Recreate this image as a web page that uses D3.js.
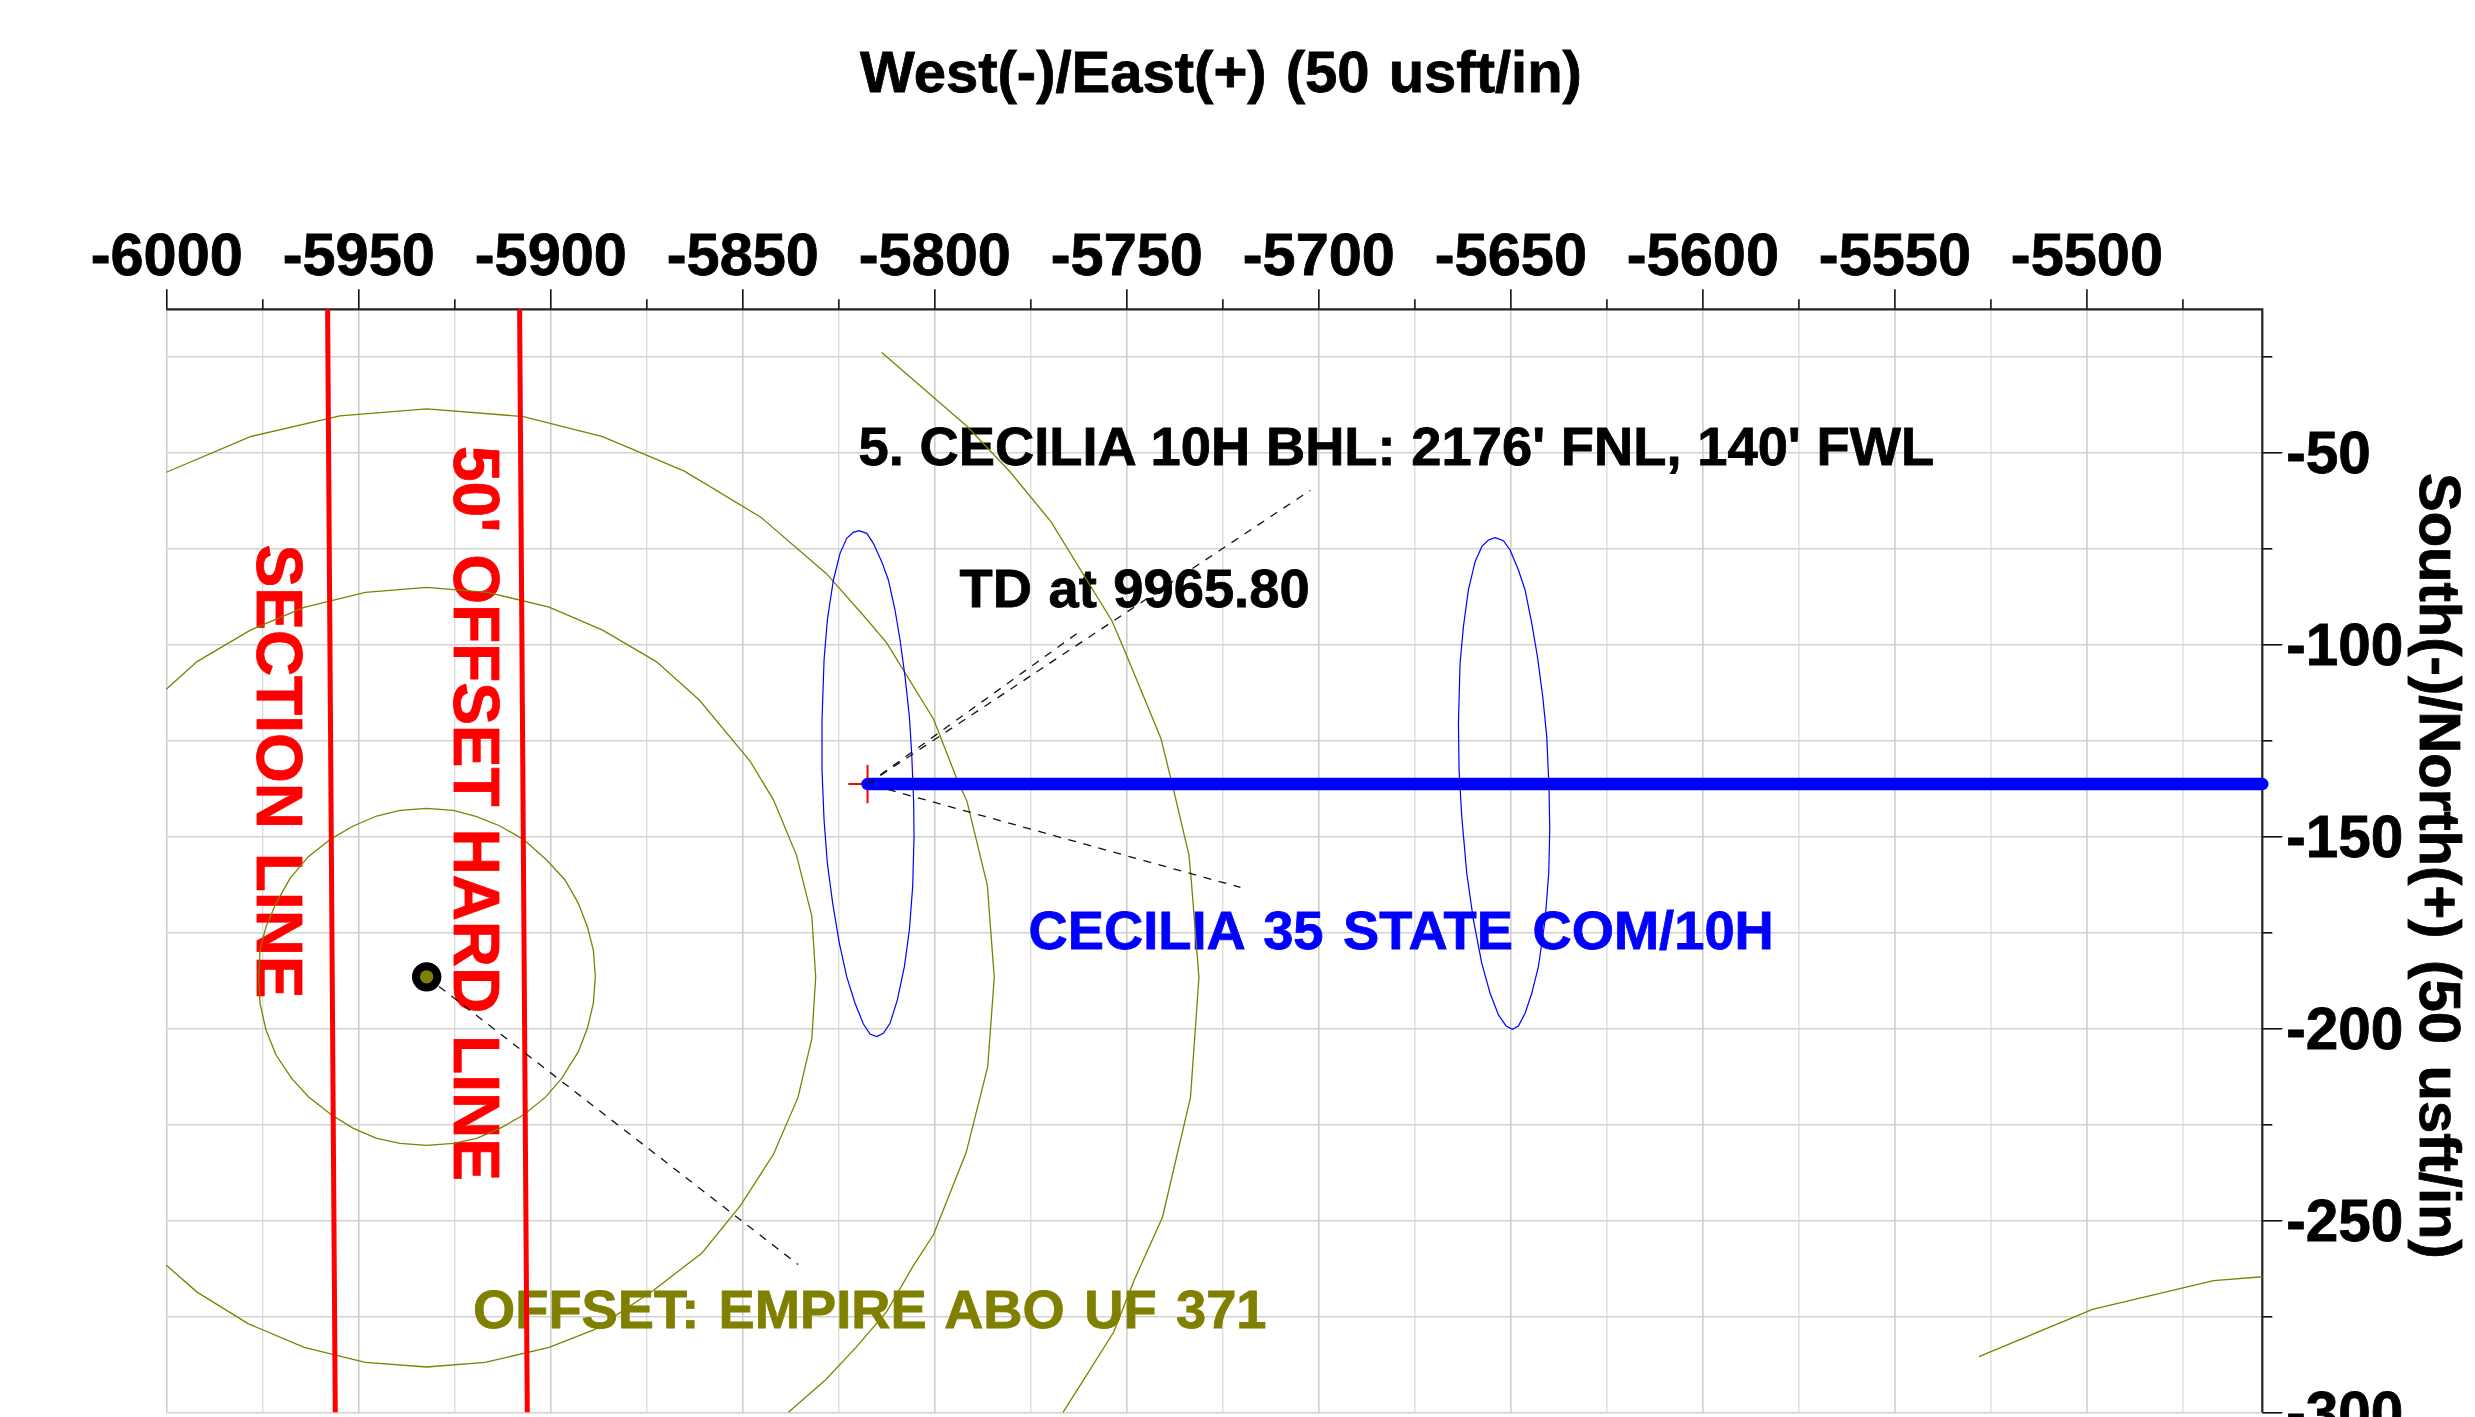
<!DOCTYPE html>
<html>
<head>
<meta charset="utf-8">
<script src="https://cdn.jsdelivr.net/npm/d3@7"></script>
<style>
    body { margin: 0; background: #fff; }
    svg { display: block; }
    text { font-family: "Liberation Sans", Arial, sans-serif; font-weight: bold; }
</style>
</head>
<body>
<script>
// tick values
var xMajor = [-6000, -5950, -5900, -5850, -5800, -5750, -5700, -5650, -5600, -5550, -5500];
var xMinor = [-5975, -5925, -5875, -5825, -5775, -5725, -5675, -5625, -5575, -5525, -5475];
var yMajor = [-50, -100, -150, -200, -250, -300];
var yMinor = [-25, -75, -125, -175, -225, -275];

// hard lines [west/east, south/north]
var sectionLine = [[-5958, -12.76], [-5956, -300]];
var hardLine = [[-5908, -12.76], [-5906, -300]];

// offset well and its separation rings
var offsetWell = [[-5932.2, -186.6]];
var ringA = [[-5932.2, -142.72], [-5925.25, -143.24], [-5919.18, -144.89], [-5913.1, -147.32], [-5907.02, -150.79],
    [-5900.95, -156.17], [-5896.17, -161.38], [-5892.7, -167.46], [-5890.36, -173.53], [-5888.8, -179.61],
    [-5888.28, -186.55], [-5888.8, -193.5], [-5890.36, -200], [-5892.7, -206.08], [-5897.04, -213.03],
    [-5901.38, -218.06], [-5907.02, -222.58], [-5913.1, -226.05], [-5919.18, -228.65], [-5925.25, -229.95],
    [-5932.2, -230.47], [-5939.14, -229.95], [-5945.22, -228.65], [-5951.29, -226.05], [-5956.93, -222.58],
    [-5963.01, -217.8], [-5967.35, -213.03], [-5971.43, -206.95], [-5974.03, -200.44], [-5975.6, -193.5],
    [-5975.94, -186.55], [-5975.6, -179.61], [-5974.03, -173.53], [-5971.43, -167.46], [-5967.78, -160.95],
    [-5963.01, -155.31], [-5956.93, -150.53], [-5951.29, -147.32], [-5945.22, -144.72], [-5939.14, -143.24],
    [-5932.2, -142.72]];
var ringB = [[-6000, -111.7], [-5992, -104.5], [-5978.1, -96.3], [-5964.1, -90.4], [-5948.2, -86.5], [-5932.2, -85.2],
    [-5916.3, -86.5], [-5900.3, -90.3], [-5886.4, -96.3], [-5872.4, -104.5], [-5861.2, -114.5], [-5848, -130.4],
    [-5841.9, -140.5], [-5835.9, -154.9], [-5831.9, -170.8], [-5830.9, -186.7], [-5831.9, -202.6], [-5835.5, -218],
    [-5841.9, -232.8], [-5850.5, -246.2], [-5860.5, -258.5], [-5873.1, -268.2], [-5888.4, -278.4], [-5900.3, -283.1],
    [-5917, -287], [-5932.2, -288.2], [-5948.2, -287], [-5964.1, -283.1], [-5978.7, -276.9], [-5992, -268.7], [-6000, -261.7]];
var ringC = [[-6000, -55.2], [-5978.1, -45.9], [-5954.8, -40.5], [-5932.2, -38.7], [-5907, -40.7], [-5886.4, -45.9],
    [-5865.1, -54.9], [-5845.2, -66.9], [-5828.1, -81.6], [-5818.8, -92.1], [-5812.5, -99.5], [-5800.2, -119.5],
    [-5794.2, -134.9], [-5791.5, -140.9], [-5786.2, -162.8], [-5784.4, -186.8], [-5786.1, -210], [-5791.7, -232.3],
    [-5800.2, -253.7], [-5805.7, -262.2], [-5812.4, -273.8], [-5820.4, -283.1], [-5828.3, -291.5], [-5838, -300]];
var ringD = [[-5813.7, -24], [-5791.5, -43.2], [-5780.2, -55.2], [-5769.6, -68.1], [-5753.7, -94], [-5750.3, -102],
    [-5741, -124.5], [-5737.7, -137.9], [-5733.7, -154.9], [-5733.1, -161.4], [-5731.1, -186.8], [-5733.3, -218],
    [-5740.6, -249.2], [-5748, -265.7], [-5753.3, -279.1], [-5760.6, -290.7], [-5766.5, -300]];
var ringE = [[-5528, -285.5], [-5498.4, -273.2], [-5466.9, -265.7], [-5454.2, -264.7]];

// uncertainty ellipses on the wellbore
var ellipseA = [[-5819.61, -70.41], [-5817.61, -71.1], [-5815.88, -73.71], [-5813.71, -78.48], [-5811.97, -83.25],
    [-5810.24, -91.07], [-5808.93, -98.88], [-5807.63, -108.43], [-5806.5, -118.84], [-5805.9, -128.39],
    [-5805.38, -141.41], [-5805.29, -150.09], [-5805.64, -163.11], [-5806.5, -174.39], [-5807.8, -183.94],
    [-5809.63, -192.62], [-5811.54, -198.7], [-5813.27, -201.3], [-5815.01, -202.17], [-5816.75, -201.48],
    [-5818.48, -198.87], [-5820.65, -193.49], [-5822.82, -186.55], [-5824.73, -177.87], [-5826.47, -167.45],
    [-5827.86, -157.03], [-5828.72, -145.75], [-5829.25, -132.73], [-5829.25, -119.71], [-5828.72, -104.09],
    [-5827.86, -93.67], [-5826.29, -83.25], [-5824.56, -76.31], [-5822.82, -72.4], [-5821.09, -70.84], [-5819.61, -70.41]];
var ellipseB = [[-5653.98, -72.23], [-5651.81, -73.01], [-5650.08, -75.44], [-5647.91, -80.65], [-5646.17, -85.85],
    [-5644.43, -94.53], [-5642.96, -103.21], [-5641.57, -113.63], [-5640.53, -124.05], [-5639.92, -137.93],
    [-5639.75, -148.35], [-5640.01, -159.63], [-5640.96, -171.79], [-5642.7, -183.94], [-5644.43, -190.88],
    [-5646.17, -196.09], [-5647.91, -199.39], [-5649.47, -200.26], [-5651.12, -199.39], [-5653.11, -196.52],
    [-5655.28, -190.88], [-5657.45, -183.07], [-5659.62, -171.79], [-5661.36, -159.63], [-5662.66, -144.88],
    [-5663.36, -132.73], [-5663.53, -120.57], [-5663.1, -104.95], [-5662.23, -95.4], [-5660.93, -85.85],
    [-5659.19, -78.48], [-5657.45, -74.57], [-5655.72, -72.83], [-5653.98, -72.23]];

// wellbore and the TD cross
var wellbore = [[-5817.4, -136.4], [-5454.2, -136.4]];
var crossH = [[-5822.4, -136.4], [-5812.4, -136.4]];
var crossV = [[-5817.4, -131.4], [-5817.4, -141.4]];

// dashed leaders from the labels
var leaderBhl = [[-5817.4, -136.4], [-5702.1, -59.9]];
var leaderTd = [[-5817.4, -136.4], [-5761.9, -96.5]];
var leaderWell = [[-5812.1, -137.8], [-5720.3, -163.3]];
var leaderOffset = [[-5932.2, -186.6], [-5835.5, -261.5]];

var w = 2475, h = 1417;
var left = 166.3, right = 2262.3, top_ = 309.3, bottom = 1412.3;

var x = d3.scaleLinear().domain([-6000, -5454.2]).range([left, right]);
var y = d3.scaleLinear().domain([-12.76, -300]).range([top_, bottom]);

var svg = d3.select("body").append("svg")
    .attr("width", w)
    .attr("height", h)
    .style("overflow", "hidden");

var line = d3.line()
    .x(function(d){ return x(d[0]); })
    .y(function(d){ return y(d[1]); });

//grid first, everything else sits on it
function grid(axis, color, width){
    var g = svg.append("g").call(axis);
    g.select(".domain").remove();
    g.selectAll("text").remove();
    g.selectAll("line").attr("stroke", color).attr("stroke-width", width);
    return g;
}
grid(d3.axisTop(x).tickValues(xMinor).tickSize(top_ - bottom), "#d0d0d0", 1)
    .attr("transform", "translate(0," + top_ + ")");
grid(d3.axisTop(x).tickValues(xMajor).tickSize(top_ - bottom), "#bebebe", 1.2)
    .attr("transform", "translate(0," + top_ + ")");
grid(d3.axisRight(y).tickValues(yMinor.concat(yMajor)).tickSize(left - right), "#d2d2d2", 1.5)
    .attr("transform", "translate(" + right + ",0)");

//labels go under the lines, spacing is the extra gap between words
function label(str, px, py, size, color, spacing, rotate){
    return svg.append("text")
        .attr("transform", "translate(" + px + "," + py + ")" + (rotate ? " rotate(90)" : ""))
        .style("font-size", size + "px")
        .style("word-spacing", spacing + "px")
        .style("fill", color)
        .style("stroke", color)
        .style("stroke-width", 0.8)
        .text(str);
}
label("West(-)/East(+) (50 usft/in)", 860, 91.7, 58, "#000", 3);
label("South(-)/North(+) (50 usft/in)", 2420, 473, 58, "#000", 5.5, true);
label("5. CECILIA 10H BHL: 2176' FNL, 140' FWL", 858.5, 464.6, 54.3, "#000", 0.7);
label("TD at 9965.80", 959.5, 607, 54.3, "#000", 1.5);
label("CECILIA 35 STATE COM/10H", 1028.5, 948.5, 54.3, "#0000ff", 4.4);
label("OFFSET: EMPIRE ABO UF 371", 473, 1327.6, 54.3, "#808000", 4.3);
label("SECTION LINE", 256.5, 544.5, 64, "#ff0000", 6, true);
label("50' OFFSET HARD LINE", 453.5, 446, 64, "#ff0000", 4, true);

//axes on top and right
function axis(gen, tr, tickLen){
    var g = svg.append("g").attr("transform", tr).call(gen.tickSize(tickLen).tickSizeOuter(0));
    g.select(".domain").remove();
    g.selectAll("line").attr("stroke", "#000").attr("stroke-width", 1.5);
    return g;
}
axis(d3.axisTop(x).tickValues(xMinor).tickFormat(""), "translate(0," + top_ + ")", 10);
axis(d3.axisRight(y).tickValues(yMinor).tickFormat(""), "translate(" + right + ",0)", 10);
var xAxis = axis(d3.axisTop(x).tickValues(xMajor).tickFormat(String), "translate(0," + top_ + ")", 20);
var yAxis = axis(d3.axisRight(y).tickValues(yMajor).tickFormat(String), "translate(" + right + ",0)", 20);
xAxis.selectAll("text")
    .attr("y", -34)
    .attr("fill", "#000")
    .attr("stroke", "#000")
    .attr("stroke-width", 0.8)
    .style("font-size", "59.5px");
yAxis.selectAll("text")
    .attr("x", 24)
    .attr("dy", "0.35em")
    .attr("fill", "#000")
    .attr("stroke", "#000")
    .attr("stroke-width", 0.8)
    .style("font-size", "58.5px");

svg.append("path").attr("d", "M" + left + "," + top_ + "H" + right + "V" + bottom)
    .attr("fill", "none").attr("stroke", "#222").attr("stroke-width", 2.2);

function path(data, color, width, dash){
    return svg.append("path")
        .datum(data)
        .attr("d", line)
        .attr("fill", "none")
        .attr("stroke", color)
        .attr("stroke-width", width)
        .attr("stroke-dasharray", dash || null);
}
[ringA, ringB, ringC, ringD, ringE].forEach(function(r){ path(r, "#808000", 1.3); });
path(sectionLine, "#ff0000", 5);
path(hardLine, "#ff0000", 5);
path(ellipseA, "#0000ff", 1.2);
path(ellipseB, "#0000ff", 1.2);

path(crossH, "#ff0000", 2);
path(crossV, "#ff0000", 2);
path(wellbore, "#0000ff", 12.5).attr("stroke-linecap", "round");

[leaderBhl, leaderTd, leaderWell, leaderOffset].forEach(function(l){ path(l, "#111", 1.3, "8,7.6"); });

svg.selectAll(".offsetWell")
    .data(offsetWell)
    .enter()
    .append("circle")
    .attr("class", "offsetWell")
    .attr("cx", function(d){ return x(d[0]); })
    .attr("cy", function(d){ return y(d[1]); })
    .attr("r", 10.7)
    .attr("fill", "#808000")
    .attr("stroke", "#000")
    .attr("stroke-width", 8);
</script>
</body>
</html>
